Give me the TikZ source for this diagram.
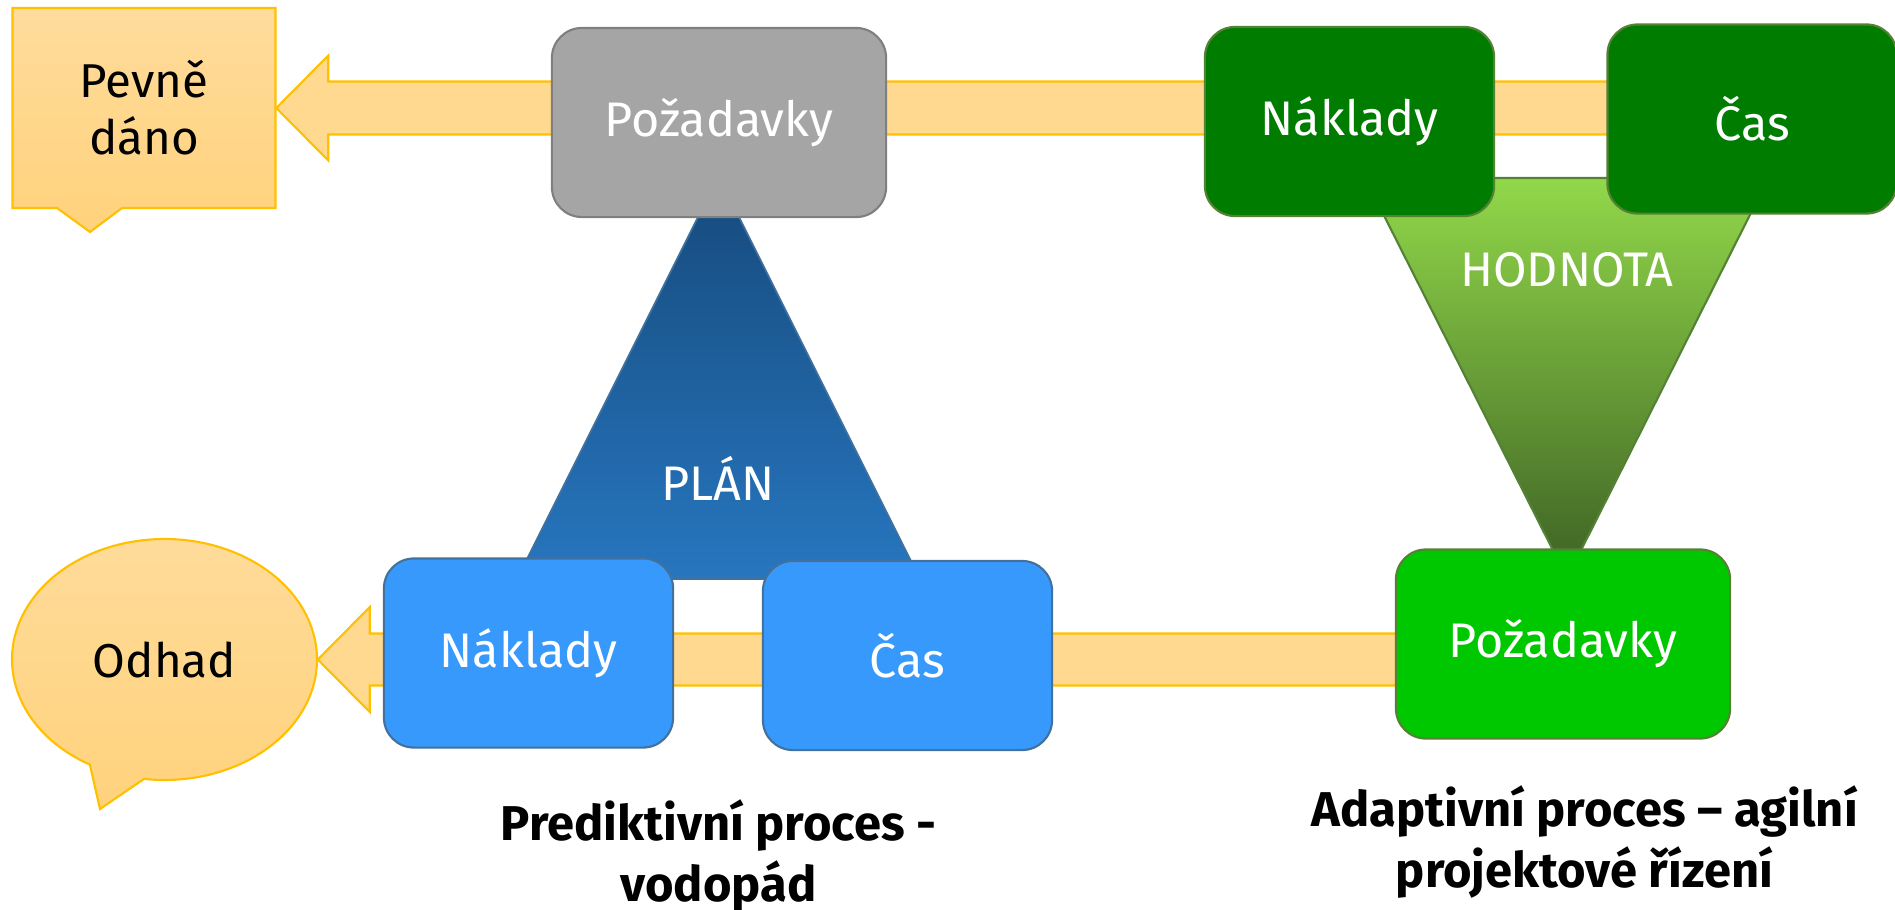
\documentclass[tikz,border=0pt]{standalone}
\usepackage{fontspec}
\setmainfont{Fira Sans}
\usetikzlibrary{shapes.geometric,calc}
\definecolor{gold}{HTML}{FFC000}
\definecolor{sand}{HTML}{FFD98F}
\definecolor{sandlight}{HTML}{FFDC9C}
\definecolor{sanddark}{HTML}{FFD27C}
\definecolor{stone}{HTML}{A5A5A5}
\definecolor{stoneline}{HTML}{7F7F7F}
\definecolor{navy}{HTML}{164A7C}
\definecolor{sea}{HTML}{2776BF}
\definecolor{sky}{HTML}{3899FD}
\definecolor{skyline}{HTML}{41719C}
\definecolor{forest}{HTML}{007D00}
\definecolor{lime}{HTML}{00C800}
\definecolor{leafline}{HTML}{548235}
\definecolor{leaftop}{HTML}{92D84A}
\definecolor{leafbottom}{HTML}{3D6124}
\begin{document}
\begin{tikzpicture}[
  x=0.01cm,y=-0.01cm,
  box/.style={rounded corners=0.3cm,minimum height=1.89cm,line width=0.6pt,text=white,font=\fontsize{13.8}{16}\selectfont},
  wide/.style={box,minimum width=3.34cm},
  narrow/.style={box,minimum width=2.89cm},
  callout/.style={draw=gold,line width=0.6pt,top color=sandlight,bottom color=sanddark},
  calltext/.style={align=center,inner sep=0pt,font=\fontsize{13.5}{16.2}\selectfont},
  bigarrow/.style={draw=gold,fill=sand,line width=0.6pt},
  caption/.style={align=center,font=\fontsize{13.9}{17.2}\selectfont\bfseries}
]
\useasboundingbox (0,0) rectangle (1895,909);
% callouts
\path[callout] (12.5,8) -- (275.5,8) -- (275.5,208) -- (122,208) -- (90,232) -- (57,208) -- (12.5,208) -- cycle;
\node[calltext,minimum width=2.63cm,minimum height=2cm] (pevne) at (144,108) {Pevně\\dáno};
\coordinate (odhadC) at (164.5,659.5);
\path[callout] (100,809) -- ($(odhadC)+(119.3:152.5 and 120.5)$) arc[start angle=119.3,end angle=457.7,x radius=152.5,y radius=120.5] -- cycle;
\node[calltext,ellipse,minimum width=3.05cm,minimum height=2.41cm] (odhad) at (odhadC) {Odhad};
% block arrows
\path[bigarrow] (pevne.east) -- ++(52,-52.5) -- ++(0,26) -- ++(1420,0) -- ++(0,53) -- ++(-1420,0) -- ++(0,26) -- cycle;
\path[bigarrow] (odhad.east) -- ++(52,-52.5) -- ++(0,26.5) -- ++(1250,0) -- ++(0,52) -- ++(-1250,0) -- ++(0,26.5) -- cycle;
% triangles
\path[draw=skyline,line width=0.5pt,top color=navy,bottom color=sea] (718.5,176) -- (920,579) -- (517,579) -- cycle;
\path[draw=leafline,line width=0.6pt,top color=leaftop,bottom color=leafbottom] (1365,178) -- (1768.5,178) -- (1567,578) -- cycle;
\node[text=white,font=\fontsize{13.8}{16}\selectfont] (plan) at (718,478) {PLÁN};
\node[text=white,font=\fontsize{13.8}{16}\selectfont] (hodnota) at (1567,270) {HODNOTA};
% predictive
\node[wide,draw=stoneline,fill=stone] (reqP) at (719,122.5) {Požadavky};
\node[narrow,draw=skyline,fill=sky] (costP) at (528.5,653) {Náklady};
\node[narrow,draw=skyline,fill=sky] (timeP) at (907.5,655.5) {Čas};
% adaptive
\node[narrow,draw=leafline,fill=forest] (costA) at (1349.5,121.5) {Náklady};
\node[narrow,draw=leafline,fill=forest] (timeA) at (1752,119) {Čas};
\node[wide,draw=leafline,fill=lime] (reqA) at (1563,644) {Požadavky};
\node[caption] (predikt) at (718.5,856) {Prediktivní proces -\\vodopád};
\node[caption] (adapt) at (1584.5,842) {Adaptivní proces – agilní\\projektové řízení};
\end{tikzpicture}
\end{document}
